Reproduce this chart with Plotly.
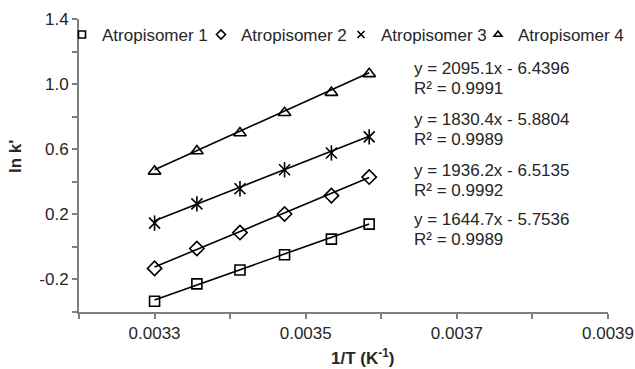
import plotly.graph_objects as go

x_vals = [0.003300, 0.003356, 0.003413, 0.003472, 0.003534, 0.003584]
atrop1 = [-0.334, -0.227, -0.142, -0.048, 0.048, 0.140]
atrop2 = [-0.132, -0.010, 0.088, 0.202, 0.315, 0.429]
atrop3 = [0.146, 0.264, 0.357, 0.474, 0.577, 0.676]
atrop4 = [0.464, 0.589, 0.700, 0.824, 0.948, 1.063]
names = ["Atropisomer 1", "Atropisomer 2", "Atropisomer 3", "Atropisomer 4"]
slopes = [1644.7, 1936.2, 1830.4, 2095.1]
intercepts = [-5.7536, -6.5135, -5.8804, -6.4396]
r2 = ["0.9989", "0.9992", "0.9989", "0.9991"]
label_y = [219.3, 170.0, 119.3, 68.3]  # px from top of figure for equation line
legend_text_x = [98, 237, 377, 514]   # px where each legend text starts

series = [atrop1, atrop2, atrop3, atrop4]
symbols = ["square-open", "diamond-open", "x-thin-open", "triangle-up-open"]
sizes = [10, 11, 11, 11]

FONT = "Liberation Sans, Arial, sans-serif"
TXT = "#262626"
W, H = 635, 369
ml, mr, mt, mb = 79, 27, 19, 57

fig = go.Figure()
for i, ys in enumerate(series):
    x0, x1 = x_vals[0], x_vals[-1]
    fig.add_trace(go.Scatter(
        x=[x0, x1], y=[slopes[i] * x0 + intercepts[i], slopes[i] * x1 + intercepts[i]],
        mode="lines", line=dict(color="black", width=1.6),
        showlegend=False, hoverinfo="skip"))
    fig.add_trace(go.Scatter(
        x=x_vals, y=ys, mode="markers", showlegend=False,
        marker=dict(symbol=symbols[i], size=sizes[i], color="black",
                    line=dict(color="black", width=1.6))))
    if i == 2:
        fig.add_trace(go.Scatter(
            x=x_vals, y=ys, mode="markers", showlegend=False,
            marker=dict(symbol="line-ns-open", size=11, color="black",
                        line=dict(color="black", width=1.6))))
# legend entries, one small legend each
legend_ids = ["legend", "legend2", "legend3", "legend4"]
for i in range(4):
    fig.add_trace(go.Scatter(
        x=[None], y=[None], mode="markers", name=names[i], legend=legend_ids[i],
        marker=dict(symbol=symbols[i], size=7, color="black",
                    line=dict(color="black", width=1.6))))

# equation annotations
pw = W - ml - mr
ph = H - mt - mb
for i in range(4):
    yp = 1 - (label_y[i] - mt) / ph
    yp2 = 1 - (label_y[i] + 20 - mt) / ph
    fig.add_annotation(xref="paper", yref="paper", x=(411.7 - ml) / pw, y=yp,
                       xanchor="left", yanchor="middle", showarrow=False,
                       text=f"y = {slopes[i]}x - {abs(intercepts[i])}",
                       font=dict(family=FONT, size=17, color=TXT))
    fig.add_annotation(xref="paper", yref="paper", x=(411.7 - ml) / pw, y=yp2,
                       xanchor="left", yanchor="middle", showarrow=False,
                       text=f"R² = {r2[i]}",
                       font=dict(family=FONT, size=17, color=TXT))

# axis titles
fig.add_annotation(xref="paper", yref="paper", x=(362 - ml) / pw, y=1 - (370 - mt) / ph,
                   xanchor="center", yanchor="bottom", showarrow=False,
                   text="<b>1/T (K<sup>-1</sup>)</b>",
                   font=dict(family=FONT, size=17, color=TXT))
fig.add_annotation(xref="paper", yref="paper", x=(15 - ml) / pw, y=1 - (157 - mt) / ph,
                   xanchor="center", yanchor="middle", showarrow=False, textangle=-90,
                   text="<b>ln k'</b>",
                   font=dict(family=FONT, size=17, color=TXT))

xt = [0.0032, 0.0033, 0.0034, 0.0035, 0.0036, 0.0037, 0.0038, 0.0039]
xtt = ["", "0.0033", "", "0.0035", "", "0.0037", "", "0.0039"]
yt = [-0.4, -0.2, 0.0, 0.2, 0.4, 0.6, 0.8, 1.0, 1.2, 1.4]
ytt = ["", "-0.2", "", "0.2", "", "0.6", "", "1.0", "", "1.4"]

legend_layout = {}
for i in range(4):
    legend_layout[legend_ids[i]] = dict(
        orientation="h", xref="container", yref="container",
        x=(legend_text_x[i] - 36) / W, y=1 - 35 / H, xanchor="left", yanchor="middle",
        font=dict(family=FONT, size=17, color=TXT),
        bgcolor="rgba(0,0,0,0)", borderwidth=0)

fig.update_layout(
    width=W, height=H,
    margin=dict(l=ml, r=mr, t=mt, b=mb, autoexpand=False),
    paper_bgcolor="white", plot_bgcolor="white",
    font=dict(family=FONT, size=17, color=TXT),
    showlegend=True,
    xaxis=dict(range=[0.0032, 0.0039], tickvals=xt, ticktext=xtt,
               showgrid=False, zeroline=False, showline=True,
               linecolor="#7f7f7f", linewidth=2, ticks="outside", ticklen=5,
               tickcolor="#7f7f7f", tickwidth=2,
               tickfont=dict(family=FONT, size=17, color=TXT)),
    yaxis=dict(range=[-0.4, 1.4], tickvals=yt, ticktext=ytt,
               showgrid=False, zeroline=False, showline=True,
               linecolor="#7f7f7f", linewidth=2, ticks="outside", ticklen=5,
               tickcolor="#7f7f7f", tickwidth=2,
               tickfont=dict(family=FONT, size=17, color=TXT)),
    **legend_layout,
)

fig.write_html("out.html")
